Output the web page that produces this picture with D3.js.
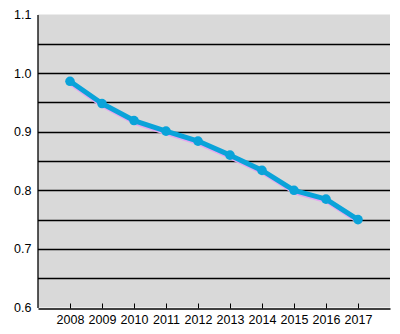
<!DOCTYPE html>
<html lang="en">
<head>
<meta charset="UTF-8">
<title>Line chart</title>
<script src="https://d3js.org/d3.v7.min.js"></script>
<style>
    body { margin: 0; background: #fff; }
    svg text { font-family: "Liberation Sans", Arial, sans-serif; fill: #000; }
</style>
</head>
<body>
<svg class="chart"></svg>
<script>
    const years = ["2008", "2009", "2010", "2011", "2012", "2013", "2014", "2015", "2016", "2017"];
    const values = [0.986, 0.948, 0.919, 0.901, 0.884, 0.860, 0.834, 0.800, 0.785, 0.750];
    const yTicks = [0.6, 0.7, 0.8, 0.9, 1.0, 1.1];
    const gridLines = [0.65, 0.7, 0.75, 0.8, 0.85, 0.9, 0.95, 1.0, 1.05];

    const width = 400, height = 334;
    const plotLeft = 38, plotRight = 390, plotTop = 14.5, plotBottom = 307.5;

    const svg = d3.select('.chart')
        .attr('width', width)
        .attr('height', height);

    const x = d3.scalePoint().domain(years).range([plotLeft, plotRight]).padding(1);
    const y = d3.scaleLinear().domain([0.6, 1.1]).range([plotBottom, plotTop]);

    svg.append('rect')
        .attr('x', plotLeft).attr('y', plotTop)
        .attr('width', plotRight - plotLeft).attr('height', plotBottom - plotTop)
        .attr('fill', '#d9d9d9');

    svg.selectAll('.grid')
        .data(gridLines)
        .enter()
        .append('line')
        .attr('x1', plotLeft).attr('x2', plotRight)
        .attr('y1', d => Math.round(y(d)) + 0.5)
        .attr('y2', d => Math.round(y(d)) + 0.5)
        .attr('stroke', '#000')
        .attr('stroke-width', 1.3);

    // axes
    const xAxis = svg.append('g')
        .attr('transform', `translate(0,${Math.round(plotBottom) + 0.5})`)
        .call(d3.axisBottom(x).tickSizeInner(-5).tickSizeOuter(0).tickPadding(7));
    xAxis.select('.domain').attr('stroke', '#000').attr('stroke-width', 1.3);
    xAxis.selectAll('text').attr('font-size', 12.5);

    const yAxis = svg.append('g')
        .attr('transform', `translate(${plotLeft - 0.5},0)`)
        .call(d3.axisLeft(y).tickValues(yTicks).tickFormat(d3.format('.1f')).tickSize(0).tickPadding(6));
    yAxis.select('.domain').attr('stroke', '#000').attr('stroke-width', 1.3);
    yAxis.selectAll('text').attr('font-size', 12.5);

    const line = d3.line()
        .x((d, i) => x(years[i]))
        .y(d => y(d));

    // soft shadow under the line
    svg.append('path')
        .datum(values)
        .attr('d', line)
        .attr('transform', 'translate(0.8,1.8)')
        .attr('fill', 'none')
        .attr('stroke', '#e4a6f0')
        .attr('stroke-width', 5)
        .attr('stroke-linejoin', 'round');

    svg.append('path')
        .datum(values)
        .attr('d', line)
        .attr('fill', 'none')
        .attr('stroke', '#0aa3d9')
        .attr('stroke-width', 5)
        .attr('stroke-linejoin', 'round');

    svg.selectAll('.dot')
        .data(values)
        .enter()
        .append('circle')
        .attr('cx', (d, i) => x(years[i]))
        .attr('cy', d => y(d))
        .attr('r', 4.8)
        .attr('fill', '#0aa3d9');
</script>
</body>
</html>
